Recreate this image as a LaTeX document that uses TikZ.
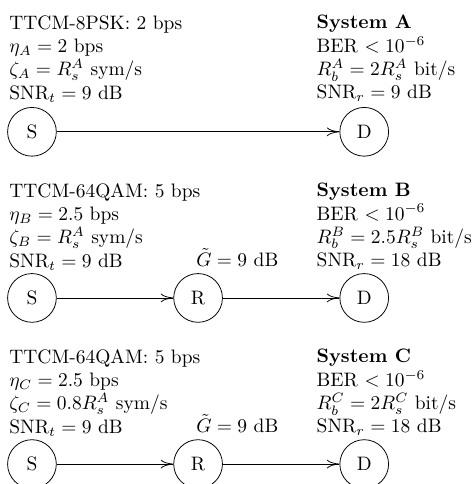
\documentclass[tikz,border=0pt]{standalone}
\usetikzlibrary{arrows.meta}
\begin{document}
\begin{tikzpicture}[
  station/.style={circle, draw, minimum size=0.88cm, inner sep=0pt},
  info/.style={anchor=north west, align=left, inner sep=0pt},
  gain/.style={anchor=base west, inner sep=0pt},
  link/.style={-{To[length=6.5pt,width=4.5pt]}}
]
\useasboundingbox (-0.577,2.38) rectangle (7.95,-6.36);

% System A: direct link
\node[station] (sA) at (0,0) {S};
\node[station] (dA) at (6,0) {D};
\draw[link] (sA) -- (dA);
\node[info] (tA) at (-0.415,2.11) {TTCM-8PSK: 2 bps\\ $\eta_A = 2$ bps\\ $\zeta_A = R_s^A$ sym/s\\ $\mathrm{SNR}_t = 9$ dB};
\node[info] (rA) at (5.135,2.11) {\textbf{System A}\\ BER $< 10^{-6}$\\ $R_b^A = 2R_s^A$ bit/s\\ $\mathrm{SNR}_r = 9$ dB};

% System B: one relay
\node[station] (sB) at (0,-3) {S};
\node[station] (rB) at (3,-3) {R};
\node[station] (dB) at (6,-3) {D};
\draw[link] (sB) -- (rB);
\draw[link] (rB) -- (dB);
\node[info] (tB) at (-0.415,-0.92) {TTCM-64QAM: 5 bps\\ $\eta_B = 2.5$ bps\\ $\zeta_B = R_s^A$ sym/s\\ $\mathrm{SNR}_t = 9$ dB};
\node[info] (xB) at (5.135,-0.92) {\textbf{System B}\\ BER $< 10^{-6}$\\ $R_b^B = 2.5R_s^B$ bit/s\\ $\mathrm{SNR}_r = 18$ dB};
\node[gain] (gB) at (2.96,-2.43) {$\tilde{G} = 9$ dB};

% System C: one relay, reduced symbol rate
\node[station] (sC) at (0,-6) {S};
\node[station] (rC) at (3,-6) {R};
\node[station] (dC) at (6,-6) {D};
\draw[link] (sC) -- (rC);
\draw[link] (rC) -- (dC);
\node[info] (tC) at (-0.415,-3.92) {TTCM-64QAM: 5 bps\\ $\eta_C = 2.5$ bps\\ $\zeta_C = 0.8R_s^A$ sym/s\\ $\mathrm{SNR}_t = 9$ dB};
\node[info] (xC) at (5.135,-3.92) {\textbf{System C}\\ BER $< 10^{-6}$\\ $R_b^C = 2R_s^C$ bit/s\\ $\mathrm{SNR}_r = 18$ dB};
\node[gain] (gC) at (2.96,-5.43) {$\tilde{G} = 9$ dB};
\end{tikzpicture}
\end{document}
